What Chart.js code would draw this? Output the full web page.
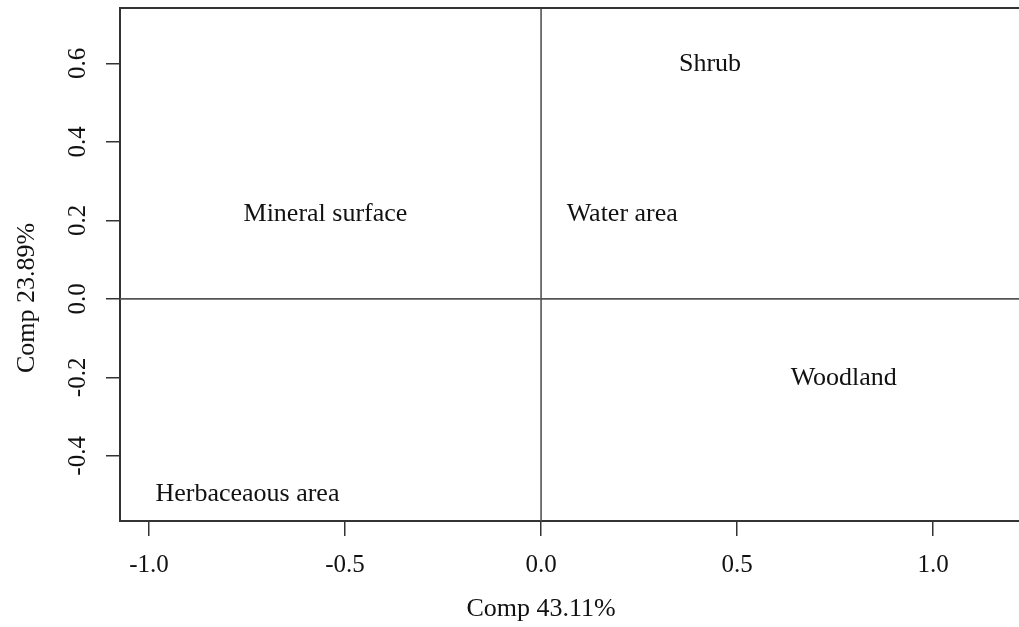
<!DOCTYPE html>
<html>
<head>
<meta charset="utf-8">
<script src="https://cdn.jsdelivr.net/npm/chart.js@4.4.0/dist/chart.umd.min.js"></script>
<style>
  body { margin: 0; background: #fff; }
  canvas { display: block; }
</style>
</head>
<body>
<canvas id="grafico" width="1019" height="627"></canvas>
<script>
// categorias e coordenadas (Comp 1 / Comp 2)
const categorias = ['Shrub', 'Water area', 'Mineral surface', 'Woodland', 'Herbaceaous area'];
const comp1 = [0.431, 0.207, -0.550, 0.772, -0.749];
const comp2 = [0.600, 0.218, 0.217, -0.199, -0.496];

const ticksX = [-1.0, -0.5, 0.0, 0.5, 1.0];
const ticksY = [-0.4, -0.2, 0.0, 0.2, 0.4, 0.6];

const fonte = 'Liberation Serif, Times New Roman, serif';
const corTexto = '#111';
const corLinha = '#333';

const pontos = comp1.map((x, i) => ({ x: x, y: comp2[i] }));

// desenha rotulos, linhas de referencia, moldura e titulos
const pluginRotulos = {
  id: 'rotulos',
  afterDraw(chart) {
    const ctx = chart.ctx;
    const area = chart.chartArea;
    const sx = chart.scales.x;
    const sy = chart.scales.y;

    ctx.save();
    // linhas em zero
    ctx.strokeStyle = '#555';
    ctx.lineWidth = 1.6;
    const x0 = sx.getPixelForValue(0);
    const y0 = sy.getPixelForValue(0);
    ctx.beginPath();
    ctx.moveTo(x0, area.top);
    ctx.lineTo(x0, area.bottom);
    ctx.moveTo(area.left, y0);
    ctx.lineTo(area.right, y0);
    ctx.stroke();

    // topo da moldura
    ctx.strokeStyle = corLinha;
    ctx.lineWidth = 2;
    ctx.beginPath();
    ctx.moveTo(area.left, area.top);
    ctx.lineTo(area.right, area.top);
    ctx.stroke();

    // rotulos das categorias
    ctx.fillStyle = corTexto;
    ctx.font = '26px ' + fonte;
    ctx.textAlign = 'center';
    ctx.textBaseline = 'middle';
    const meta = chart.getDatasetMeta(0);
    meta.data.forEach((p, i) => {
      ctx.fillText(categorias[i], p.x, p.y + 1);
    });

    // titulos
    ctx.fillText('Comp 43.11%', x0, 609);
    ctx.save();
    ctx.translate(27, 298);
    ctx.rotate(-Math.PI / 2);
    ctx.fillText('Comp 23.89%', 0, 0);
    ctx.restore();

    // rotulos do eixo y (girados)
    ctx.font = '25px ' + fonte;
    sy.ticks.forEach((t) => {
      const py = sy.getPixelForValue(t.value);
      ctx.save();
      ctx.translate(78, py);
      ctx.rotate(-Math.PI / 2);
      ctx.fillText(t.value.toFixed(1), 0, 0);
      ctx.restore();
    });
    ctx.restore();
  }
};

new Chart(document.getElementById('grafico'), {
  type: 'scatter',
  data: {
    datasets: [{
      label: 'Comp',
      data: pontos,
      pointRadius: 0,
      pointHoverRadius: 0
    }]
  },
  options: {
    responsive: false,
    animation: false,
    devicePixelRatio: 1,
    layout: { padding: { top: 8, right: 0, left: 0, bottom: 0 } },
    plugins: {
      legend: { display: false },
      tooltip: { enabled: false }
    },
    scales: {
      x: {
        type: 'linear',
        min: -1.074,
        max: 1.219,
        afterBuildTicks: (s) => { s.ticks = ticksX.map((v) => ({ value: v })); },
        afterFit: (s) => { s.height = 106; },
        border: { display: true, color: corLinha, width: 2 },
        grid: { drawOnChartArea: false, drawTicks: true, tickLength: 15, color: corLinha, lineWidth: 1.5 },
        ticks: {
          color: corTexto,
          font: { family: fonte, size: 25 },
          padding: 14,
          maxRotation: 0,
          callback: (v) => v.toFixed(1)
        }
      },
      y: {
        type: 'linear',
        min: -0.566,
        max: 0.741,
        afterBuildTicks: (s) => { s.ticks = ticksY.map((v) => ({ value: v })); },
        afterFit: (s) => { s.width = 120; },
        border: { display: true, color: corLinha, width: 2 },
        grid: { drawOnChartArea: false, drawTicks: true, tickLength: 14, color: corLinha, lineWidth: 1.5 },
        ticks: { display: false }
      }
    }
  },
  plugins: [pluginRotulos]
});
</script>
</body>
</html>
